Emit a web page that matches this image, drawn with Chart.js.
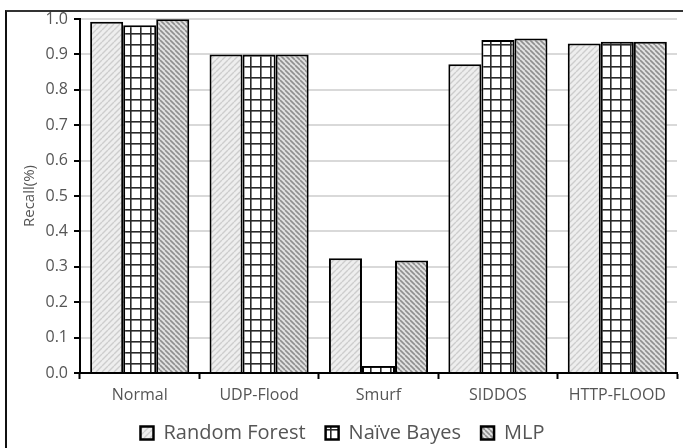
<!DOCTYPE html>
<html>
<head>
<meta charset="utf-8">
<script src="https://cdn.jsdelivr.net/npm/chart.js@4.4.1/dist/chart.umd.min.js"></script>
<style>
  html, body { margin: 0; padding: 0; background: #fff; }
  #wrap { position: relative; width: 683px; height: 448px; overflow: hidden; }
  #frame {
    position: absolute; left: 5px; top: 10px; width: 720px; height: 500px;
    border-left: 2px solid #111; border-top: 2px solid #333; pointer-events: none;
  }
  canvas { position: absolute; left: 0; top: 0; }
</style>
</head>
<body>
<div id="wrap">
  <canvas id="chart" width="683" height="448"></canvas>
  <div id="frame"></div>
</div>
<script>
'use strict';

// 데이터
const categories   = ['Normal', 'UDP-Flood', 'Smurf', 'SIDDOS', 'HTTP-FLOOD'];
const randomForest = [0.992, 0.900, 0.324, 0.872, 0.931];
const naiveBayes   = [0.982, 0.900, 0.020, 0.941, 0.936];
const mlp          = [0.999, 0.900, 0.318, 0.945, 0.936];
const seriesNames  = ['Random Forest', 'Naïve Bayes', 'MLP'];
const yTicks       = [0, 0.1, 0.2, 0.3, 0.4, 0.5, 0.6, 0.7, 0.8, 0.9, 1.0];

const TEXT = '#555555';
const FONT = "'Open Sans', 'Noto Sans', sans-serif";

// 패턴 채우기
function makePattern(w, h, draw) {
  const c = document.createElement('canvas');
  c.width = w; c.height = h;
  const g = c.getContext('2d');
  draw(g, w, h);
  return g.createPattern(c, 'repeat');
}

const rfFill = makePattern(6, 6, (g, w, h) => {
  g.fillStyle = '#eeeeee';
  g.fillRect(0, 0, w, h);
  g.strokeStyle = '#cdcdcd';
  g.lineWidth = 1.4;
  for (let k = -1; k <= 1; k++) {
    g.beginPath();
    g.moveTo(k * w, h);
    g.lineTo(k * w + w, 0);
    g.stroke();
  }
});

const nbFill = makePattern(10, 11, (g, w, h) => {
  g.fillStyle = '#ffffff';
  g.fillRect(0, 0, w, h);
  g.fillStyle = '#2a2a2a';
  g.fillRect(0, 0, 1.6, h);
  g.fillRect(0, 0, w, 1.6);
});

const mlpFill = makePattern(5, 5, (g, w, h) => {
  g.fillStyle = '#e2e2e2';
  g.fillRect(0, 0, w, h);
  g.strokeStyle = '#8e8e8e';
  g.lineWidth = 1.6;
  for (let k = -1; k <= 1; k++) {
    g.beginPath();
    g.moveTo(k * w, 0);
    g.lineTo(k * w + w, h);
    g.stroke();
  }
});

const barStyle = {
  borderColor: '#000',
  borderWidth: 2,
  borderSkipped: 'bottom',
  barPercentage: 1.0,
  categoryPercentage: 0.83,
};

new Chart(document.getElementById('chart'), {
  type: 'bar',
  data: {
    labels: categories,
    datasets: [
      { label: seriesNames[0], data: randomForest, backgroundColor: rfFill,  ...barStyle },
      { label: seriesNames[1], data: naiveBayes,   backgroundColor: nbFill,  ...barStyle },
      { label: seriesNames[2], data: mlp,          backgroundColor: mlpFill, ...barStyle },
    ],
  },
  options: {
    responsive: false,
    animation: false,
    devicePixelRatio: 1,
    layout: { padding: { top: 19, right: 6, bottom: -5, left: 8 } },
    plugins: {
      tooltip: { enabled: false },
      legend: {
        position: 'bottom',
        labels: {
          color: TEXT,
          font: { family: FONT, size: 20 },
          boxWidth: 13,
          boxHeight: 13,
          padding: 20,
          generateLabels(chart) {
            return chart.data.datasets.map((ds, i) => ({
              text: ds.label,
              fillStyle: ds.backgroundColor,
              strokeStyle: '#000',
              lineWidth: 2.5,
              fontColor: TEXT,
              datasetIndex: i,
            }));
          },
        },
      },
    },
    scales: {
      x: {
        grid: {
          offset: true,
          drawOnChartArea: false,
          tickColor: '#000',
          tickLength: 6,
          tickWidth: 2,
        },
        border: { color: '#000', width: 2 },
        ticks: {
          color: TEXT,
          font: { family: FONT, size: 16 },
          padding: 7,
          maxRotation: 0,
          autoSkip: false,
        },
        afterFit(scale) { scale.height = 30; },
      },
      y: {
        min: 0,
        max: 1,
        afterBuildTicks(scale) { scale.ticks = yTicks.map(v => ({ value: v })); },
        grid: {
          color: '#d9d9d9',
          lineWidth: 2,
          tickColor: '#000',
          tickLength: 6,
          tickWidth: 2,
        },
        border: { color: '#000', width: 2 },
        ticks: {
          color: TEXT,
          font: { family: FONT, size: 16 },
          padding: 6,
          callback: v => Number(v).toFixed(1),
        },
        title: {
          display: true,
          text: 'Recall(%)',
          color: TEXT,
          font: { family: FONT, size: 15 },
          padding: { top: 13, bottom: 0 },
        },
        afterFit(scale) { scale.width = 72; },
      },
    },
  },
});
</script>
</body>
</html>
